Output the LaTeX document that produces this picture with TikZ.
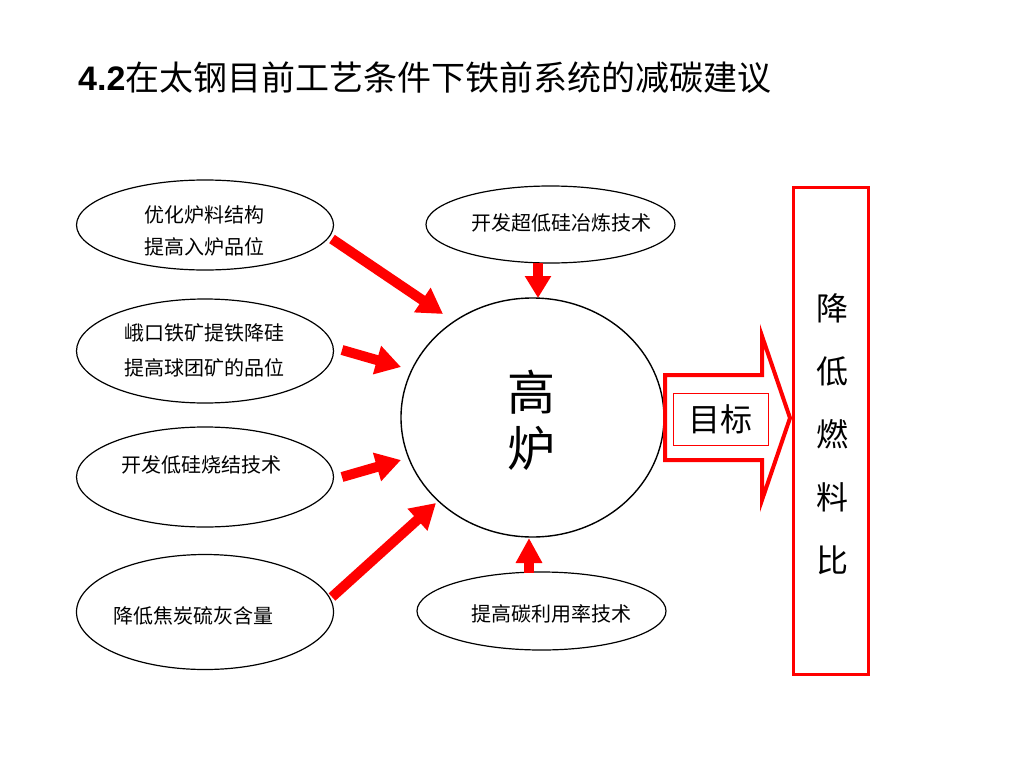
\documentclass[tikz,border=0pt]{standalone}
\usepackage{fontspec}
\setmainfont{Liberation Sans}
\newfontfamily\cjk{Noto Sans CJK SC}
\usetikzlibrary{shapes.geometric,arrows.meta}
\begin{document}
\begin{tikzpicture}[x=1pt,y=-1pt,
  oval/.style={draw=black, line width=1.2pt, ellipse, inner sep=0pt},
  lbl/.style={inner sep=0pt, font=\cjk\fontsize{20}{32}\selectfont, align=center},
  redarrow/.style={draw=red, line width=10pt, -{Triangle[width=28pt,length=25pt]}},
]
\useasboundingbox (0,0) rectangle (1024,768);
\fill[white] (0,0) rectangle (1024,768);

% title
\node[anchor=west, inner sep=0pt] (title) at (78,78)
  {\fontsize{34}{40}\selectfont\textbf{4.2}\cjk 在太钢目前工艺条件下铁前系统的减碳建议};

% left ellipses
\node[oval, minimum width=257pt, minimum height=90pt] (e1) at (205,225) {};
\node[oval, minimum width=257pt, minimum height=104pt] (e2) at (205,351) {};
\node[oval, minimum width=257pt, minimum height=100pt] (e3) at (205,477) {};
\node[oval, minimum width=257pt, minimum height=115pt] (e4) at (205,612) {};
\node[lbl] (t1) at (204,231) {优化炉料结构\\提高入炉品位};
\node[lbl, font=\cjk\fontsize{20}{35}\selectfont] (t2) at (204,350) {峨口铁矿提铁降硅\\提高球团矿的品位};
\node[lbl] (t3) at (201,465) {开发低硅烧结技术};
\node[lbl] (t4) at (193,616) {降低焦炭硫灰含量};

% top and bottom ellipses
\node[oval, minimum width=249pt, minimum height=77pt] (top) at (550.5,224.5) {};
\node[oval, minimum width=249pt, minimum height=78pt] (bot) at (541.5,611) {};
\node[lbl] (tt) at (561,223) {开发超低硅冶炼技术};
\node[lbl] (tb) at (551,614) {提高碳利用率技术};

% blast furnace
\node[oval, line width=1.4pt, minimum width=263pt, minimum height=239pt] (bf) at (532.5,417.5) {};
\node[inner sep=0pt, font=\cjk\fontsize{48}{56}\selectfont, align=center] (bft) at (531,420) {高\\炉};

% red arrows
\coordinate (a1s) at (332,239); \coordinate (a1e) at (443,314);
\coordinate (a2s) at (342,350); \coordinate (a2e) at (401,367);
\coordinate (a3s) at (342,477); \coordinate (a3e) at (401,460);
\coordinate (a4s) at (332,597); \coordinate (a4e) at (436,503);
\coordinate (a5s) at (538,263); \coordinate (a5e) at (538,298);
\coordinate (a6s) at (529,573); \coordinate (a6e) at (529,538);
\draw[redarrow] (a1s) -- (a1e);
\draw[redarrow] (a2s) -- (a2e);
\draw[redarrow] (a3s) -- (a3e);
\draw[redarrow] (a4s) -- (a4e);
\draw[redarrow, -{Triangle[width=25pt,length=22pt]}] (a5s) -- (a5e);
\draw[redarrow, -{Triangle[width=25pt,length=25pt]}] (a6s) -- (a6e);

% big hollow arrow
\draw[red, line width=4pt, line join=miter] (665,375) -- (762,375) -- (762,336)
  -- (790,418) -- (762,500) -- (762,460) -- (665,460) -- cycle;
\node[draw=red, line width=1pt, minimum width=95pt, minimum height=52pt, inner sep=0pt,
  font=\cjk\fontsize{32}{38}\selectfont] (goal) at (720.5,419) {目标};

% target box
\node[draw=red, line width=3pt, minimum width=75pt, minimum height=487pt, inner sep=0pt] (target) at (830.5,430.5) {};
\node[inner sep=0pt, font=\cjk\fontsize{32}{63}\selectfont, align=center] (tgt) at (832,434) {降\\低\\燃\\料\\比};
\end{tikzpicture}
\end{document}
